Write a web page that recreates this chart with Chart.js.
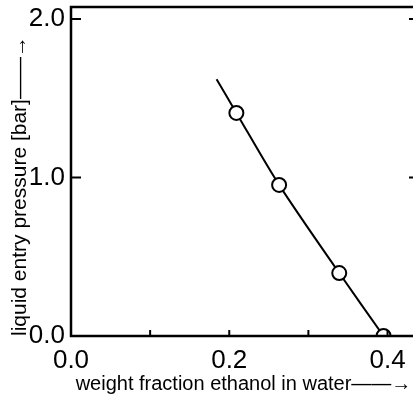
<!DOCTYPE html>
<html>
<head>
<meta charset="utf-8">
<script src="https://cdn.jsdelivr.net/npm/chart.js@4/dist/chart.umd.min.js"></script>
<style>
  html, body { margin: 0; padding: 0; background: #fff; overflow: hidden; }
  #wrap { width: 416px; height: 397px; }
</style>
</head>
<body>
<div id="wrap"><canvas id="myChart" width="416" height="397"></canvas></div>
<script>
// curve drawn through the measured points (first entry is where the line starts)
const curveX = [0.184, 0.209, 0.263, 0.339, 0.395];
const curveY = [1.62, 1.407, 0.953, 0.397, 0.0];

// measured points (open circles)
const pointX = [0.209, 0.263, 0.339, 0.395];
const pointY = [1.407, 0.953, 0.397, 0.0];

const xTicks = [0.0, 0.1, 0.2, 0.3, 0.4];
const xLabels = ['0.0', '', '0.2', '', '0.4'];
const yTicks = [0.0, 1.0, 2.0];
const yLabels = ['0.0', '1.0', '2.0'];

const xTitle = 'weight fraction ethanol in water\u2014\u2014\u2192';
const yTitle = 'liquid entry pressure [bar]\u2014\u2014\u2192';

const fontFamily = "'Liberation Sans', Arial, sans-serif";

function toXY(xs, ys) {
    const out = [];
    for (let i = 0; i < xs.length; i++) {
        out.push({ x: xs[i], y: ys[i] });
    }
    return out;
}

// frame around the plot and the short inward tick marks
const framePlugin = {
    id: 'frame',
    afterDraw(chart) {
        const ctx = chart.ctx;
        const a = chart.chartArea;
        const xs = chart.scales.x;
        const ys = chart.scales.y;
        ctx.save();
        ctx.strokeStyle = '#000';
        ctx.lineWidth = 2.5;
        ctx.strokeRect(a.left, a.top, a.right - a.left, a.bottom - a.top);

        ctx.lineWidth = 2;
        ctx.beginPath();
        xTicks.forEach(v => {
            const px = xs.getPixelForValue(v);
            ctx.moveTo(px, a.bottom);
            ctx.lineTo(px, a.bottom - 6);
        });
        yTicks.forEach(v => {
            const py = ys.getPixelForValue(v);
            ctx.moveTo(a.left, py);
            ctx.lineTo(a.left + 10, py);
            ctx.moveTo(a.right, py);
            ctx.lineTo(a.right - 7, py);
        });
        ctx.stroke();
        ctx.restore();
    }
};

// keep the plot box where the reference has it
function noPadding(scale) {
    scale.paddingTop = 0;
    scale.paddingBottom = 0;
    scale.paddingLeft = 0;
    scale.paddingRight = 0;
}

const ctx = document.getElementById('myChart').getContext('2d');
const myChart = new Chart(ctx, {
    type: 'scatter',
    data: {
        datasets: [{
                label: 'curve',
                data: toXY(curveX, curveY),
                showLine: true,
                borderColor: '#000',
                borderWidth: 2,
                tension: 0.3,
                pointRadius: 0,
                order: 2
            },
            {
                label: 'measured',
                data: toXY(pointX, pointY),
                showLine: false,
                borderColor: '#000',
                backgroundColor: '#fff',
                borderWidth: 2,
                pointRadius: 7,
                pointStyle: 'circle',
                order: 1
            }
        ]
    },
    options: {
        responsive: false,
        animation: false,
        events: [],
        layout: {
            autoPadding: false,
            padding: { top: 7, right: 0, left: 0, bottom: 0 }
        },
        plugins: {
            legend: { display: false },
            tooltip: { enabled: false }
        },
        scales: {
            x: {
                type: 'linear',
                min: 0,
                max: 0.436,
                afterBuildTicks(scale) {
                    scale.ticks = xTicks.map(v => ({ value: v }));
                },
                afterFit(scale) {
                    scale.height = 61;
                    noPadding(scale);
                },
                grid: { display: false, drawTicks: false },
                border: { display: false },
                ticks: {
                    padding: 9,
                    color: '#000',
                    font: { family: fontFamily, size: 26 },
                    maxRotation: 0,
                    autoSkip: false,
                    callback: (v, i) => xLabels[i]
                },
                title: {
                    display: true,
                    text: xTitle,
                    align: 'center',
                    color: '#000',
                    font: { family: fontFamily, size: 20 },
                    padding: { top: 0, bottom: 1 }
                }
            },
            y: {
                type: 'linear',
                min: 0,
                max: 2.075,
                afterBuildTicks(scale) {
                    scale.ticks = yTicks.map(v => ({ value: v }));
                },
                afterFit(scale) {
                    scale.width = 71;
                    noPadding(scale);
                },
                grid: { display: false, drawTicks: false },
                border: { display: false },
                ticks: {
                    padding: 6,
                    color: '#000',
                    font: { family: fontFamily, size: 26 },
                    autoSkip: false,
                    callback: (v, i) => yLabels[i]
                },
                title: {
                    display: true,
                    text: yTitle,
                    align: 'start',
                    color: '#000',
                    font: { family: fontFamily, size: 21 },
                    padding: { top: 8, bottom: 0 }
                }
            }
        }
    },
    plugins: [framePlugin]
});
</script>
</body>
</html>
